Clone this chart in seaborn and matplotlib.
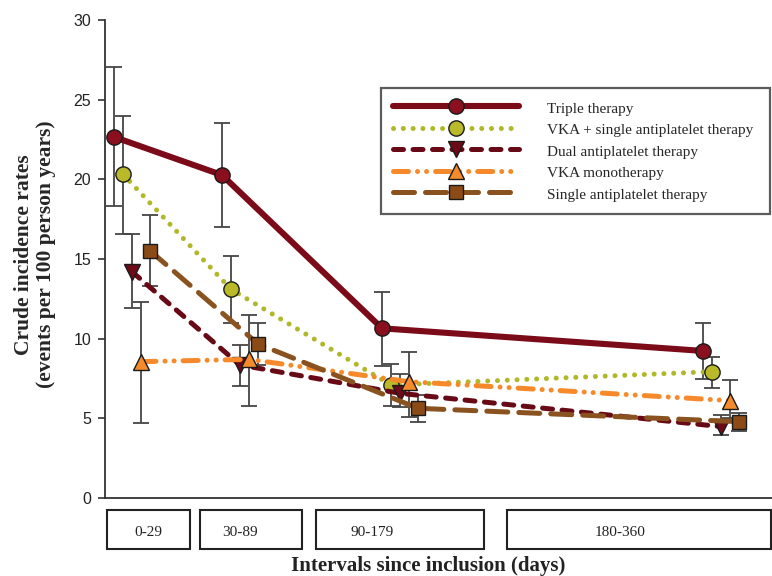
import numpy as np
import pandas as pd
import matplotlib.pyplot as plt
import seaborn as sns
from matplotlib.patches import Rectangle

# ---- data ----
intervals = ["0-29", "30-89", "90-179", "180-360"]
therapies = ["Triple therapy", "VKA + single antiplatelet therapy",
             "Dual antiplatelet therapy", "VKA monotherapy",
             "Single antiplatelet therapy"]

triple = [22.66, 20.27, 10.65, 9.23]
triple_lo = [18.35, 17.03, 8.30, 7.47]
triple_hi = [27.07, 23.54, 12.95, 10.97]

vka_single = [20.32, 13.10, 7.09, 7.93]
vka_single_lo = [16.60, 11.00, 5.78, 6.93]
vka_single_hi = [24.00, 15.20, 8.41, 8.87]

dual = [14.20, 8.35, 6.57, 4.48]
dual_lo = [11.94, 7.00, 5.73, 3.95]
dual_hi = [16.60, 9.60, 7.76, 5.21]

vka_mono = [8.56, 8.70, 7.30, 6.11]
vka_mono_lo = [4.69, 5.76, 5.06, 5.00]
vka_mono_hi = [12.28, 11.50, 9.18, 7.41]

single = [15.52, 9.67, 5.63, 4.79]
single_lo = [13.33, 8.35, 4.75, 4.22]
single_hi = [17.78, 10.97, 6.47, 5.32]

rates = [triple, vka_single, dual, vka_mono, single]
lows = [triple_lo, vka_single_lo, dual_lo, vka_mono_lo, single_lo]
highs = [triple_hi, vka_single_hi, dual_hi, vka_mono_hi, single_hi]

# ---- layout (figure pixels) ----
W, H = 772, 576
interval_x = [114, 222, 382, 703]   # where the first series sits in each interval
series_step = 9                       # small dodge between therapies
box_edges = [(107, 190), (200, 302), (316, 484), (507, 771)]
box_label_x = [148, 240, 372, 620]

rows = []
for s, name in enumerate(therapies):
    for k, iv in enumerate(intervals):
        rows.append(dict(therapy=name, interval=iv,
                         x=interval_x[k] + series_step * s,
                         rate=rates[s][k], lo=lows[s][k], hi=highs[s][k]))
df = pd.DataFrame(rows)

styles = {
    "Triple therapy": dict(color="#7c0b1a", mfc="#8a1020", lw=4.4, ls="-", marker="o", ms=11),
    "VKA + single antiplatelet therapy": dict(color="#b0b82a", mfc="#b9b92a", lw=3.6,
                                              ls=(0, (0.01, 1.95)), marker="o", ms=11),
    "Dual antiplatelet therapy": dict(color="#680a16", mfc="#6e0a18", lw=3.6,
                                      ls=(0, (2.0, 1.9)), marker="v", ms=11),
    "VKA monotherapy": dict(color="#f68a2b", mfc="#f58b2a", lw=3.6,
                            ls=(0, (3.0, 1.8, 0.01, 1.8, 0.01, 1.8)), marker="^", ms=11),
    "Single antiplatelet therapy": dict(color="#8a521e", mfc="#8b4a16", lw=3.6,
                                        ls=(0, (4.2, 2.2)), marker="s", ms=10),
}

sns.set_style("ticks")
plt.rcParams["font.family"] = ["Liberation Sans", "DejaVu Sans"]
serif = ["Liberation Serif", "DejaVu Serif"]

fig = plt.figure(figsize=(W / 100, H / 100), dpi=100)
ax = fig.add_axes([105 / W, (H - 498) / H, 667 / W, 478 / H])
ax.set_facecolor("none")

for name in therapies:
    d = df[df.therapy == name]
    st = styles[name]
    ax.errorbar(d.x, d.rate, yerr=[d.rate - d.lo, d.hi - d.rate], fmt="none",
                ecolor="#454545", elinewidth=1.3, capsize=5.5, capthick=1.3, zorder=3)
    sns.lineplot(data=d, x="x", y="rate", ax=ax, color=st["color"], linewidth=st["lw"],
                 linestyle=st["ls"], marker=st["marker"], markersize=st["ms"],
                 markerfacecolor=st["mfc"], markeredgecolor="#1a1a1a", markeredgewidth=1.0,
                 dash_capstyle="round", solid_capstyle="round",
                 label=name, legend=False, errorbar=None, zorder=4)

ax.set_xlim(105, 772)
ax.set_ylim(0, 30)
ax.set_yticks(range(0, 31, 5))
ax.set_xticks([])
ax.tick_params(axis="y", length=5, width=1.2, pad=5, labelsize=11.5,
               color="#333333", labelcolor="#222222")
for side in ["top", "right"]:
    ax.spines[side].set_visible(False)
for side in ["left", "bottom"]:
    ax.spines[side].set_linewidth(1.3)
    ax.spines[side].set_color("#333333")
ax.set_xlabel("")
ax.set_ylabel("Crude incidence rates\n(events per 100 person years)", family=serif,
              fontweight="bold", fontsize=15.5, linespacing=1.1, va="center")
ax.yaxis.set_label_coords(-0.105, 0.51)

leg = ax.legend(loc="upper left", bbox_to_anchor=(0.414, 0.858, 0.997 - 0.414, 0.0),
                mode="expand", borderaxespad=0, handlelength=8.3, handletextpad=1.8,
                handleheight=1.3, labelspacing=0.32, borderpad=0.75, numpoints=1,
                fancybox=False, prop=dict(family=serif, size=11))
leg.get_frame().set_edgecolor("#333333")
leg.get_frame().set_linewidth(1.6)

# interval boxes and x title drawn on a pixel overlay
ov = fig.add_axes([0, 0, 1, 1], zorder=-1)
ov.set_xlim(0, W)
ov.set_ylim(H, 0)
ov.axis("off")
for (x0, x1), lx, lab in zip(box_edges, box_label_x, intervals):
    ov.add_patch(Rectangle((x0, 510), x1 - x0, 39, fill=False, ec="#222222", lw=1.5))
    ov.text(lx, 532, lab, ha="center", va="center", family=serif, fontsize=11, color="#222222")
ov.text(428, 566, "Intervals since inclusion (days)", ha="center", va="center",
        family=serif, fontweight="bold", fontsize=15, color="#222222")

fig.savefig("out.png", dpi=100)
